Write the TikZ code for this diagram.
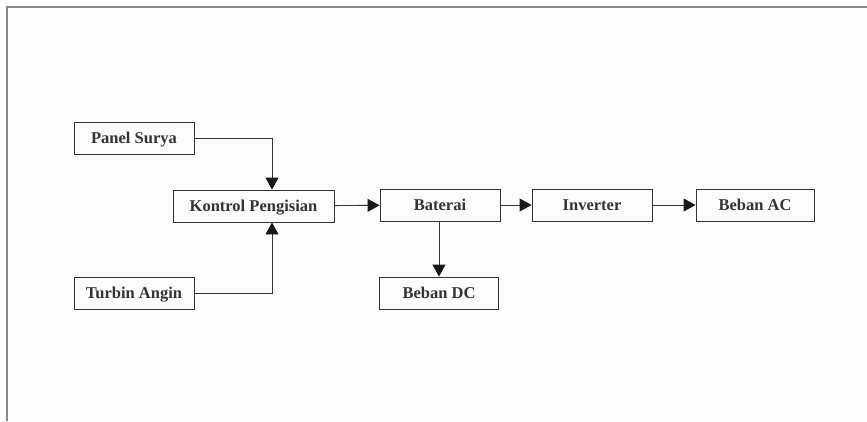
\documentclass[tikz,border=0pt]{standalone}
\usepackage{fontspec}
\setmainfont{Liberation Serif}
\usepackage{tikz}
\usetikzlibrary{arrows.meta,positioning}

\definecolor{inkgray}{HTML}{333333}
\definecolor{framegray}{HTML}{888888}
\definecolor{paper}{HTML}{FDFDFD}

\begin{document}
\begin{tikzpicture}[x=1pt,y=-1pt,>={Triangle[length=12pt,width=13pt,fill=black!90,color=black!90]},
    blok/.style={draw=inkgray,line width=0.9pt,text=inkgray,minimum width=120pt,minimum height=32pt,inner sep=0pt,text height=11pt,text depth=0pt,font=\fontsize{16.5}{19}\selectfont\bfseries},
    panah/.style={draw=inkgray,line width=0.9pt,->}]
    \fill[paper] (0,0) rectangle (867,421);
    \useasboundingbox (0,0) rectangle (867,421);
    \draw[framegray,line width=1.3pt] (7,421) -- (7,7) -- (867,7);

    \node[blok] (panel) at (134,138) {Panel Surya};
    \node[blok,minimum width=161pt] (kontrol) at (253.5,206) {Kontrol Pengisian};
    \node[blok] (turbin) at (134,293) {Turbin Angin};
    \node[blok] (baterai) at (440,205) {Baterai};
    \node[blok] (inverter) at (592,205) {Inverter};
    \node[blok,minimum width=118pt] (bebanac) at (755,205) {Beban AC};
    \node[blok,minimum width=119pt] (bebandc) at (439,293) {Beban DC};

    \draw[panah] (panel.east) -| ([xshift=18.5pt]kontrol.north);
    \draw[panah] (turbin.east) -| ([xshift=18.5pt]kontrol.south);
    \draw[panah] (kontrol) -- (baterai);
    \draw[panah] (baterai) -- (inverter);
    \draw[panah] (inverter) -- (bebanac);
    \draw[panah] ([xshift=-1pt]baterai.south) -- (bebandc.north);
\end{tikzpicture}
\end{document}
